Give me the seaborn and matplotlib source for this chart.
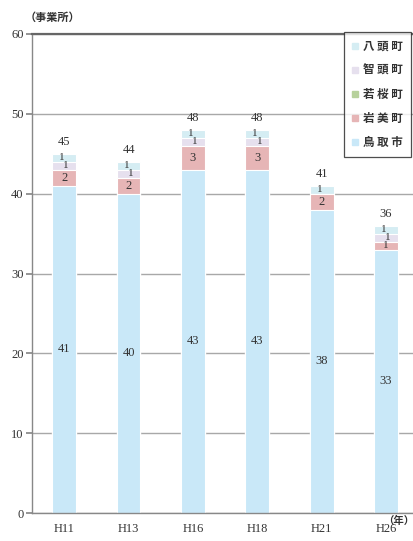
import matplotlib
matplotlib.use("Agg")
import matplotlib.pyplot as plt
from matplotlib.lines import Line2D
import seaborn as sns
import pandas as pd
import numpy as np

# Establishments by municipality and survey year
years = ["H11", "H13", "H16", "H18", "H21", "H26"]
tottori = [41, 40, 43, 43, 38, 33]   # 鳥取市
iwami = [2, 2, 3, 3, 2, 1]           # 岩美町
wakasa = [0, 0, 0, 0, 0, 0]          # 若桜町
chizu = [1, 1, 1, 1, 0, 1]           # 智頭町
yazu = [1, 1, 1, 1, 1, 1]            # 八頭町

names = ["鳥取市", "岩美町", "若桜町", "智頭町", "八頭町"]
series = [tottori, iwami, wakasa, chizu, yazu]
colors = ["#c9e8f8", "#e6b5b6", "#b7d19c", "#e6e0ee", "#d5edf3"]
# small sideways nudge (points) for labels of the thin top segments
label_dx = [0, 0, 0, 1.5, -1.5]

sns.set_theme(style="white")
plt.rcParams["font.family"] = ["Noto Sans CJK JP", "DejaVu Sans"]
serif = ["Liberation Serif", "DejaVu Serif"]

df = pd.DataFrame({"year": years})
cum = np.zeros(len(years))
cums = []
for s in series:
    cum = cum + np.array(s)
    cums.append(cum.copy())

fig = plt.figure(figsize=(4.14, 5.41), dpi=100)
ax = fig.add_axes([32 / 414, 28 / 541, 382 / 414, 479 / 541])

# stacked bars: draw cumulative totals from the top layer down
for i in range(len(series) - 1, -1, -1):
    d = df.copy()
    d["v"] = cums[i]
    sns.barplot(data=d, x="year", y="v", color=colors[i], width=0.37,
                edgecolor="white", linewidth=0.8, saturation=1, ax=ax, zorder=2)

# segment labels
for i, s in enumerate(series):
    base = cums[i] - np.array(s)
    for j, v in enumerate(s):
        if v > 0:
            small = v == 1
            ax.annotate(str(v), (j, base[j] + v / 2), xytext=(label_dx[i], 0),
                        textcoords="offset points", ha="center", va="center",
                        fontsize=8 if small else 9, color="#333333",
                        family=serif, zorder=3)

# totals above the bars
totals = cums[-1]
for j, t in enumerate(totals):
    ax.annotate(str(int(t)), (j, t), xytext=(0, 4), textcoords="offset points",
                ha="center", va="bottom", fontsize=9, color="#333333", family=serif)

ax.set_ylim(0, 60)
ax.set_xlim(-0.5, 5.435)
ax.set_yticks(range(0, 61, 10))
ax.set_yticklabels([str(v) for v in range(0, 61, 10)], family=serif, fontsize=9, color="#333333")
ax.set_xticks(range(len(years)))
ax.set_xticklabels(years, family=serif, fontsize=9, color="#333333")
ax.set_xticks(np.arange(-0.5, 5.0, 1.0), minor=True)
ax.tick_params(axis="x", which="major", length=0, pad=7)
ax.tick_params(axis="x", which="minor", length=3, color="#888888", direction="out")
ax.tick_params(axis="y", length=4, color="#888888", direction="out", pad=2, left=True)
ax.set_xlabel("")
ax.set_ylabel("")

ax.set_axisbelow(True)
ax.yaxis.grid(True, color="#a8a8a8", linewidth=1)
ax.xaxis.grid(False)
for sp in ["left", "bottom"]:
    ax.spines[sp].set_color("#888888")
    ax.spines[sp].set_linewidth(1)
ax.spines["right"].set_visible(False)
ax.spines["top"].set_color("#666666")
ax.spines["top"].set_linewidth(1.6)

# legend, top layer first
handles = [Line2D([], [], marker="s", linestyle="none", markersize=4,
                  markerfacecolor=colors[i], markeredgecolor=colors[i])
           for i in range(len(series) - 1, -1, -1)]
labels = [" ".join(names[i]) for i in range(len(series) - 1, -1, -1)]
leg = fig.legend(handles, labels, loc="upper right",
                 bbox_to_anchor=(411 / 414, 1 - 32 / 541),
                 prop={"family": ["Noto Sans CJK JP"], "weight": "bold", "size": 8.3},
                 frameon=True, fancybox=False, edgecolor="#222222",
                 labelspacing=0.95, handlelength=0.6, handletextpad=0.4,
                 borderpad=0.7, borderaxespad=0)
leg.get_frame().set_linewidth(0.9)
for t in leg.get_texts():
    t.set_color("#333333")

fig.text(25 / 414, 1 - 17 / 541, "（事業所）", ha="left", va="center",
         fontsize=8, weight="bold", color="#333333")
fig.text(414 / 414, 1 - 516 / 541, "（年）", ha="right", va="top",
         fontsize=7.5, weight="bold", color="#333333")

fig.savefig("out.png", dpi=100)
